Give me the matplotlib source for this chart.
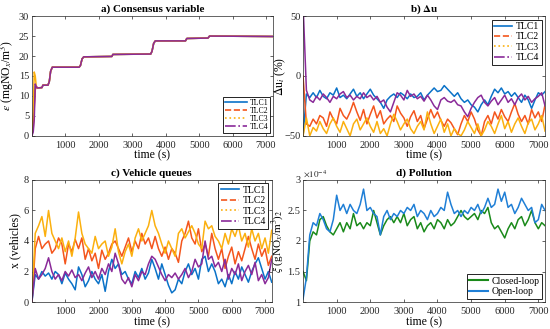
import matplotlib
matplotlib.use('Agg')
import matplotlib.pyplot as plt
import numpy as np
from matplotlib.lines import Line2D

plt.rcParams['font.family'] = ['Liberation Serif', 'DejaVu Serif']
plt.rcParams['mathtext.fontset'] = 'stix'

# ---- data ----
tlc_names = ['TLC1', 'TLC2', 'TLC3', 'TLC4']
tlc_colors = ['#0a72c8', '#f4561d', '#fbb00f', '#8a2a99']
tlc_styles = ['-', '--', ':', '-.']

# a) consensus variable (break points)
eps_t = [0, 40, 70, 100, 130, 160, 300, 330, 480, 520, 560, 610, 1410, 1450, 1500, 1550,
         2390, 2420, 3550, 3590, 3640, 3690, 4590, 4630, 5260, 5310, 7200]
eps_tail = [12.0, 12.1, 12.7, 12.7, 13.6, 16.2, 17.2, 17.2, 17.6, 19.3, 19.8,
            19.9, 20.4, 20.5, 21.2, 23.2, 23.8, 23.8, 24.4, 24.5, 25.0, 24.9]
eps_tlc1 = [0, 3, 8, 12.5, 12.2] + eps_tail
eps_tlc2 = [0, 2, 7, 11.5, 12.5] + eps_tail
eps_tlc3 = [0, 6, 16, 15, 12.5] + eps_tail
eps_tlc4 = [0, 1, 4, 13, 12.3] + eps_tail

# sampling grid of the noisy series (s)
time = np.arange(0, 7201, 100)

# b) delta u (%)
du_tlc1 = [-50, -15, -18, -14, -18, -12, -17, -19, -14, -16, -10, -18, -16, -19, -15, -11,
           -17, -14, -19, -15, -11, -16, -19, -22, -27, -20, -17, -15, -18, -14, -16, -19,
           -15, -18, -17, -14, -20, -16, -13, -10, -13, -12, -8, -11, -14, -17, -14, -19,
           -22, -20, -24, -26, -30, -24, -20, -24, -17, -11, -14, -10, -15, -13, -17, -14,
           -18, -22, -16, -20, -27, -20, -14, -16, -13]
du_tlc2 = [0, -40, -42, -36, -40, -33, -35, -42, -30, -36, -40, -27, -33, -36, -30, -22,
           -30, -37, -28, -40, -32, -25, -35, -29, -40, -36, -33, -38, -25, -31, -35, -42,
           -34, -29, -38, -33, -44, -36, -28, -35, -30, -37, -42, -36, -39, -44, -49, -40,
           -33, -38, -30, -36, -45, -50, -38, -33, -40, -30, -36, -28, -34, -38, -30, -23,
           -32, -38, -33, -40, -28, -35, -30, -38, -24]
du_tlc3 = [-50, -35, -50, -43, -46, -38, -44, -48, -40, -35, -42, -47, -38, -44, -50, -40,
           -36, -45, -40, -35, -42, -47, -38, -48, -44, -50, -40, -32, -38, -45, -40, -36,
           -44, -48, -42, -38, -45, -30, -40, -48, -42, -36, -47, -40, -50, -44, -48, -50,
           -45, -38, -43, -48, -40, -50, -45, -38, -42, -48, -40, -33, -44, -38, -47, -40,
           -35, -42, -48, -39, -36, -45, -40, -33, -46]
du_tlc4 = [60, -12, -20, -22, -17, -20, -15, -18, -22, -17, -19, -15, -13, -18, -16, -20,
           -17, -19, -14, -18, -16, -20, -17, -22, -20, -26, -30, -22, -14, -16, -20, -12,
           -17, -15, -19, -17, -21, -16, -20, -25, -28, -20, -18, -21, -22, -20, -24, -25,
           -30, -34, -27, -22, -18, -16, -22, -25, -21, -18, -24, -20, -16, -22, -19, -24,
           -18, -15, -20, -17, -22, -19, -17, -14, -25]

# c) vehicle queues
q_tlc1 = [0, 1.8, 1.5, 2.0, 1.7, 1.9, 1.5, 2.0, 1.8, 1.2, 1.9, 1.5, 1.2, 0.8, 2.3, 1.8,
          1.0, 1.4, 2.0, 1.5, 1.2, 1.8, 0.7, 2.0, 2.8, 2.2, 2.5, 1.8, 2.0, 1.5, 1.2, 2.0,
          1.6, 2.2, 1.5, 1.9, 2.8, 2.2, 1.5, 2.5, 1.8, 1.1, 0.6, 0.8, 1.5, 1.2, 2.0, 2.5,
          1.8, 2.2, 1.5, 2.8, 3.0, 2.0, 2.5, 2.0, 1.2, 1.5, 1.0, 1.8, 1.2, 2.0, 1.5, 2.3,
          1.8, 1.3, 2.0, 2.5, 2.9, 2.2, 1.5, 2.0, 1.3]
q_tlc2 = [0, 3.5, 4.3, 3.5, 3.8, 4.0, 3.2, 3.5, 4.2, 3.8, 2.5, 3.8, 3.3, 4.1, 3.5, 4.2,
          2.8, 3.5, 2.7, 3.2, 2.2, 3.4, 2.8, 3.2, 3.8, 4.0, 3.5, 3.0, 3.6, 4.2, 3.3, 4.0,
          3.5, 4.5, 3.8, 4.2, 3.5, 4.3, 3.5, 3.0, 3.6, 2.8, 3.5, 3.2, 2.6, 4.0, 4.5, 5.3,
          4.2, 3.8, 4.8, 3.3, 3.8, 3.0, 4.5, 3.5, 2.8, 3.5, 2.2, 3.0, 3.6, 2.5, 3.3, 2.7,
          3.5, 4.3, 3.5, 2.8, 3.8, 3.0, 3.5, 2.4, 3.0]
q_tlc3 = [0, 4.5, 5.0, 5.6, 4.3, 6.0, 4.5, 4.0, 3.5, 4.2, 3.3, 4.0, 3.0, 4.2, 5.9, 4.5,
          3.8, 3.5, 3.2, 4.3, 3.5, 3.8, 4.0, 3.0, 3.6, 4.8, 3.3, 2.5, 3.3, 3.8, 3.0, 4.2,
          4.8, 4.0, 4.5, 5.0, 6.0, 5.0, 4.5, 3.8, 3.2, 4.0, 3.5, 3.0, 4.5, 4.8, 4.2, 4.6,
          5.0, 4.5, 3.8, 3.5, 5.3, 4.8, 5.0, 4.3, 4.0, 3.5, 4.5, 3.8, 4.8, 4.3, 5.0, 4.0,
          4.5, 3.6, 4.8, 4.0, 4.5, 3.5, 4.2, 3.2, 4.7]
q_tlc4 = [0, 2.2, 1.5, 1.8, 2.2, 2.9, 2.0, 1.5, 1.8, 1.4, 2.0, 1.7, 2.1, 1.6, 1.8, 1.4,
          1.9, 2.3, 1.6, 2.0, 1.5, 2.2, 1.8, 2.5, 2.0, 3.2, 2.5, 1.5, 1.2, 1.6, 1.0, 1.8,
          1.4, 2.0, 1.8, 2.5, 3.0, 2.8, 2.3, 1.8, 1.4, 1.8, 1.6, 1.9, 1.5, 1.8, 2.2, 1.6,
          2.0, 2.8, 2.3, 2.5, 4.0, 2.8, 3.0, 2.3, 2.6, 2.0, 2.8, 1.5, 2.2, 1.8, 2.5, 1.4,
          2.0, 2.4, 1.8, 2.6, 1.4, 1.8, 1.2, 1.6, 2.8]

# d) pollution (x1e-4 gNOx/m3)
poll_closed = [1.5, 1.35, 2.0, 2.15, 2.1, 2.35, 2.4, 2.25, 2.15, 2.1, 2.2, 2.3, 2.15, 2.3,
               2.2, 2.45, 2.25, 2.3, 2.2, 2.3, 2.25, 2.5, 2.3, 2.1, 2.25, 2.35, 2.4, 2.3,
               2.4, 2.3, 2.45, 2.25, 2.35, 2.4, 2.2, 2.3, 2.15, 2.25, 2.3, 2.2, 2.35, 2.3,
               2.2, 2.35, 2.25, 2.3, 2.4, 2.5, 2.4, 2.35, 2.4, 2.45, 2.35, 2.5, 2.45, 2.55,
               2.3, 2.2, 2.25, 2.15, 2.05, 2.2, 2.3, 2.2, 2.35, 2.4, 2.25, 2.35, 2.5, 2.3,
               2.2, 2.3, 2.25]
poll_open = [1.05, 1.4, 2.1, 2.3, 2.25, 2.45, 2.35, 2.2, 2.15, 2.35, 2.75, 2.5, 2.6, 2.45,
             2.6, 2.5, 2.45, 2.6, 2.85, 2.5, 2.55, 2.45, 2.4, 2.1, 2.4, 2.5, 2.35, 2.45,
             2.4, 2.5, 2.45, 2.55, 2.5, 2.6, 2.4, 2.5, 2.45, 2.35, 2.5, 2.4, 2.45, 2.55,
             2.5, 2.8, 2.6, 2.45, 2.5, 2.4, 2.5, 2.45, 2.55, 2.5, 2.6, 2.45, 2.55, 2.7,
             2.55, 2.6, 2.85, 2.65, 2.8, 2.55, 2.6, 2.45, 2.55, 2.7, 2.6, 2.5, 2.55, 2.3,
             2.35, 2.6, 2.5]

tick_fs = 7.5
label_fs = 8.5
axis_grey = '#262626'


def style_axes(ax, title):
    ax.set_xlim(0, 7200)
    ax.set_xticks([1000, 2000, 3000, 4000, 5000, 6000, 7000])
    ax.tick_params(direction='in', length=2.5, width=0.5, labelsize=tick_fs,
                   colors=axis_grey, top=True, right=True, pad=2)
    ax.tick_params(axis='x', pad=3.5)
    for s in ax.spines.values():
        s.set_linewidth(0.5)
        s.set_color(axis_grey)
    ax.set_title(title, fontsize=8, fontweight='bold', pad=3)
    ax.set_xlabel('time (s)', fontsize=label_fs, labelpad=0)


def finish_legend(leg):
    leg.get_frame().set_linewidth(0.6)


def tlc_legend(ax, loc, size, spacing, hlen):
    handles = [Line2D([0], [0], color=c, ls=s, lw=1.2) for c, s in zip(tlc_colors, tlc_styles)]
    leg = ax.legend(handles, tlc_names, loc=loc, fontsize=size, fancybox=False,
                    edgecolor='black', framealpha=1, handlelength=hlen,
                    borderpad=0.25, labelspacing=spacing, handletextpad=0.35,
                    borderaxespad=0.35)
    finish_legend(leg)


fig = plt.figure(figsize=(5.5, 3.29), dpi=100)
ax_a = fig.add_axes([0.058, 0.587, 0.438, 0.364])
ax_b = fig.add_axes([0.551, 0.587, 0.440, 0.364])
ax_c = fig.add_axes([0.058, 0.082, 0.436, 0.371])
ax_d = fig.add_axes([0.551, 0.082, 0.440, 0.371])

# a)
for vals, c in zip([eps_tlc1, eps_tlc2, eps_tlc3, eps_tlc4], tlc_colors):
    ax_a.plot(eps_t, vals, color=c, lw=1.1)
ax_a.set_ylim(0, 30)
ax_a.set_yticks(range(0, 31, 5))
style_axes(ax_a, 'a) Consensus variable')
ax_a.set_ylabel(r'$\epsilon$ (mgNO$_x$/m$^3$)', fontsize=label_fs)
ax_a.yaxis.set_label_coords(-0.064, 0.5)
tlc_legend(ax_a, 'lower right', 5.6, 0.0, 2.8)

# b)
for vals, c in zip([du_tlc1, du_tlc2, du_tlc3, du_tlc4], tlc_colors):
    ax_b.plot(time, vals, color=c, lw=1.1)
ax_b.set_ylim(-50, 50)
ax_b.set_yticks([-50, 0, 50])
style_axes(ax_b, r'b) $\mathbf{\Delta u}$')
ax_b.set_ylabel(r'$\Delta$u$_i$ (%)', fontsize=label_fs)
ax_b.yaxis.set_label_coords(-0.064, 0.5)
tlc_legend(ax_b, 'upper right', 7, 0.15, 1.9)

# c)
for vals, c in zip([q_tlc1, q_tlc2, q_tlc3, q_tlc4], tlc_colors):
    ax_c.plot(time, vals, color=c, lw=1.1)
ax_c.set_ylim(0, 8)
ax_c.set_yticks([0, 2, 4, 6, 8])
style_axes(ax_c, 'c) Vehicle queues')
ax_c.set_ylabel('x (vehicles)', fontsize=label_fs)
ax_c.yaxis.set_label_coords(-0.045, 0.5)
tlc_legend(ax_c, 'upper right', 7, 0.15, 1.9)

# d)
ax_d.plot(time, poll_closed, color='#1a8a1a', lw=1.1, label='Closed-loop')
ax_d.plot(time, poll_open, color='#1f7fd6', lw=1.1, label='Open-loop')
ax_d.set_ylim(1, 3)
ax_d.set_yticks([1, 1.5, 2, 2.5, 3])
ax_d.set_yticklabels(['1', '1.5', '2', '2.5', '3'])
style_axes(ax_d, 'd) Pollution')
ax_d.set_ylabel(r'$\bar{\xi}$ (gNO$_x$/m$^3$)$_2$', fontsize=8)
ax_d.yaxis.set_label_coords(-0.074, 0.5)
ax_d.text(0.0, 1.01, r'$\times10^{-4}$', transform=ax_d.transAxes, fontsize=6.5,
          color=axis_grey, ha='left', va='bottom')
leg = ax_d.legend(loc='lower right', fontsize=7, fancybox=False, edgecolor='black',
                  framealpha=1, handlelength=1.9, borderpad=0.25, labelspacing=0.15,
                  handletextpad=0.35, borderaxespad=0.35)
finish_legend(leg)
for h in leg.get_lines():
    h.set_linewidth(1.5)

fig.savefig('out.png', dpi=100)
